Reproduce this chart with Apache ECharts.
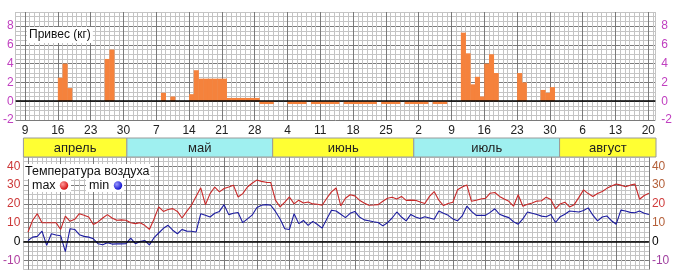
<!DOCTYPE html>
<html><head><meta charset="utf-8">
<script src="https://cdn.jsdelivr.net/npm/echarts@6/dist/echarts.min.js"></script>
<style>html,body{margin:0;padding:0;background:#fff}#c{width:675px;height:276px}</style>
</head><body><div id="c"></div>
<script>
// ---- data (day index 0 = 9 April) ----
const tickLabels = ['9','16','23','30','7','14','21','28','4','11','18','25','2','9','16','23','30','6','13','20'];
const monthNames = ['апрель','май','июнь','июль','август'];
const monthStart = [0,22,53,83,114];
const monthEnd   = [22,53,83,114,134.5];
const gain = [
 0,0,0,0,0,0,0,2.5,4,1.4,
 0,0,0,0,0,0,0,4.5,5.5,0,
 0,0,0,0,0,0,0,0,0,0.9,
 0,0.5,0,0,0,0.75,3.3,2.4,2.4,2.4,
 2.4,2.4,2.4,0.35,0.35,0.35,0.35,0.35,0.35,0.35,
 -0.3,-0.3,-0.3,0,0,0,-0.3,-0.3,-0.3,-0.3,
 0,-0.3,-0.3,-0.3,-0.3,-0.3,-0.3,0,-0.3,-0.3,
 -0.3,-0.3,-0.3,-0.3,-0.3,0,-0.3,-0.3,-0.3,-0.3,
 0,-0.3,-0.3,-0.3,-0.3,-0.3,0,-0.3,-0.3,-0.3,
 0,0,0,7.3,5.1,1.8,2.6,0.5,4,5,
 3,0,0,0,0,3,2,0,0,0,
 1.2,0.9,1.5,0,0,0,0,0,0,0,
 0,0,0,0,0,0,0,0,0,0,
 0,0,0,0
];
const tMax = [
 5,11.3,14.8,10,10,10,10,6.4,13.5,10.7,
 11.8,14.8,14,13,9,10.4,12.5,14.3,12.5,11.3,
 11.5,11.3,10,9.5,10,8.6,6.4,12,18.4,16,
 17,17.5,16,12.5,16,19.3,24,28.6,19.6,25.5,
 29,26.4,28.2,29,30,23.7,25.5,29,31,32.7,
 32,31.5,31.4,22,18.4,21,23.7,20,22,20.5,
 21,20,19.8,19.3,23,26.4,28.5,19,23,24.9,
 24.3,22,20.5,19.3,19.4,19.6,21.4,23,23.6,22.6,
 24,21.9,22,21.9,21,20.2,24,26.6,22,19.1,
 20.2,20.9,27.5,29,30.1,21.4,22,22.6,23,25.7,
 26.1,24,22.6,21.4,18.8,24.9,18.8,19.8,20.5,21.5,
 21.7,23.6,22.3,17.4,20,20.9,18.4,19.6,23.5,27.5,
 25.5,24,25.5,26.6,28.3,29.5,30.6,30,29.2,30,
 30.6,22.5,24.5,25.7
];
const tMin = [
 0.5,2.3,2.7,5.5,-2.1,4.1,3.4,3,-5.4,6.8,
 6.4,3.6,2.7,2.3,1.4,-1.2,-1.8,-0.7,-1.4,-1.3,
 -1.3,-1.2,1.8,-1.2,0,0.5,-1.8,2,4.5,7,
 8.6,6,4.1,6.4,5.5,5.4,5,14.8,14,13,
 15,16,19.6,14.3,15,15.4,10,12,14,18,
 19.3,19.6,19.3,16,12,6.8,6.4,14.8,9.5,11.2,
 8.6,10.7,9,7.1,12,16.6,16.2,14.5,12.7,15,
 16,13,11.5,11,10.5,10.1,8.3,10,12.5,15.7,
 13,11,14.4,13,12.2,13.2,12.5,11.8,16.2,15,
 13.9,12,11,13.6,18.8,16,13.9,13.9,13.9,15.5,
 17.4,14.5,13.5,12.7,10.5,9.2,12,15.7,15,14.4,
 13.5,13.2,14.4,10.1,13.2,14.5,16.2,16,15.7,16.5,
 17.9,14,11,13,13.6,11,9.2,16.7,16.2,15.5,
 15.3,16.2,15,14.4
];

// ---- styling ----
const F = "'Liberation Sans', Arial, sans-serif";
const LIGHT = '#c4c4c4', DARK = '#7a7a7a';
const BAR = '#f5823c', YELLOW = '#ffff33', CYAN = '#9ff0f0';
function cyc(n, darkAt){ const a=[]; for(let k=0;k<n;k++) a.push(k===darkAt?DARK:LIGHT); return a; }

function fmtX(v){
  const i = Math.round(v);
  if (Math.abs(v-i) > 1e-6 || i < 0 || i % 7 !== 0) return '';
  return tickLabels[i/7] || '';
}
function fmtTop(v){
  const r = Math.round(v);
  if (Math.abs(v-r) > 1e-6 || r % 2 !== 0 || r > 8) return '';
  return String(r);
}
function fmtBot(v){
  const r = Math.round(v);
  if (Math.abs(v-r) > 1e-6 || r % 10 !== 0 || r < -10 || r > 40) return '';
  return String(r);
}
function colL(v){ v=Number(v); if (v===0) return '#000'; if (v<0) return '#b040a0'; return '#cc3838'; }
function colR(v){ v=Number(v); if (v===0) return '#000'; if (v<0) return '#a040a0'; if (v===20) return '#d03c3c'; return '#b4603a'; }

const barData = [];
gain.forEach((v,i)=>{ if (v !== 0) barData.push([i, v]); });
const maxData = tMax.map((v,i)=>[i,v]);
const minData = tMin.map((v,i)=>[i,v]);
const bandData = monthNames.map((n,i)=>[monthStart[i], monthEnd[i], i]);

const chart = echarts.init(document.getElementById('c'));
chart.setOption({
  animation:false,
  backgroundColor:'#fff',
  textStyle:{fontFamily:F},
  grid:[
    {left:14, right:19, top:12, height:108},
    {left:14, right:19, top:138, height:19},
    {left:18.7, right:26.1, top:157, height:112.6}
  ],
  xAxis:[
    {type:'value', gridIndex:0, min:-2, max:134.5, interval:1,
     axisLine:{show:false}, axisTick:{show:false},
     axisLabel:{formatter:fmtX, color:'#222', fontSize:12, margin:5, fontFamily:F},
     splitLine:{show:true, lineStyle:{color:cyc(7,2), width:1}}},
    {type:'value', gridIndex:1, min:-2, max:134.5, show:false},
    {type:'value', gridIndex:2, min:-1, max:133, interval:1,
     axisLine:{show:false}, axisTick:{show:false}, axisLabel:{show:false},
     splitLine:{show:true, lineStyle:{color:cyc(7,1), width:1}}}
  ],
  yAxis:[
    {type:'value', gridIndex:0, min:-2, max:9.5, interval:0.5,
     axisLine:{show:false}, axisTick:{show:false},
     axisLabel:{formatter:fmtTop, color:'#c040c0', fontSize:12, margin:2, fontFamily:F},
     splitLine:{show:true, lineStyle:{color:cyc(4,0)}}},
    {type:'value', gridIndex:0, position:'right', min:-2, max:9.5, interval:0.5,
     axisLine:{show:false}, axisTick:{show:false},
     axisLabel:{formatter:fmtTop, color:'#c040c0', fontSize:12, margin:6, fontFamily:F},
     splitLine:{show:false}},
    {type:'value', gridIndex:1, min:0, max:1, show:false},
    {type:'value', gridIndex:2, min:-15, max:45, interval:2.5,
     axisLine:{show:false}, axisTick:{show:false},
     axisLabel:{formatter:fmtBot, color:colL, fontSize:12, margin:3, fontFamily:F},
     splitLine:{show:true, lineStyle:{color:cyc(4,2)}}},
    {type:'value', gridIndex:2, position:'right', min:-15, max:45, interval:2.5,
     axisLine:{show:false}, axisTick:{show:false},
     axisLabel:{formatter:fmtBot, color:colR, fontSize:12, margin:3, fontFamily:F},
     splitLine:{show:false}}
  ],
  series:[
    {type:'custom', xAxisIndex:0, yAxisIndex:0, data:barData, clip:true,
     renderItem:function(params, api){
       const x = api.value(0), v = api.value(1);
       const p0 = api.coord([x, 0]), p1 = api.coord([x+1, v]);
       return {type:'rect', shape:{x:p0[0], y:Math.min(p0[1],p1[1]), width:p1[0]-p0[0]+0.4, height:Math.abs(p1[1]-p0[1])},
               style:{fill:BAR}};
     },
     markLine:{silent:true, symbol:'none', label:{show:false}, lineStyle:{color:'#000', width:1.5, type:'solid'},
               data:[{yAxis:0}]}
    },
    {type:'custom', xAxisIndex:1, yAxisIndex:2, data:bandData,
     renderItem:function(params, api){
       const s = api.coord([api.value(0), 1]), e = api.coord([api.value(1), 0]);
       const idx = api.value(2);
       return {type:'group', children:[
         {type:'rect', shape:{x:s[0], y:s[1], width:e[0]-s[0], height:e[1]-s[1]},
          style:{fill: idx%2 ? CYAN : YELLOW, stroke:'#9a9a9a', lineWidth:1}},
         {type:'text', style:{text:monthNames[idx], x:(s[0]+e[0])/2, y:(s[1]+e[1])/2+0.5,
          align:'center', verticalAlign:'middle', fontSize:13, fontFamily:F, fill:'#222'}}
       ]};
     }
    },
    {type:'line', xAxisIndex:2, yAxisIndex:3, data:maxData, showSymbol:false, symbol:'none',
     lineStyle:{color:'#c82828', width:1.1}, z:3,
     markLine:{silent:true, symbol:'none', label:{show:false}, lineStyle:{color:'#000', width:1.5, type:'solid'},
               data:[{yAxis:0}]}},
    {type:'line', xAxisIndex:2, yAxisIndex:3, data:minData, showSymbol:false, symbol:'none',
     lineStyle:{color:'#1c1ca0', width:1.1}, z:3}
  ],
  graphic:[
    {type:'text', left:27, top:27, z:10, style:{text:'Привес (кг)', fontSize:12, fontFamily:F, fill:'#111',
      backgroundColor:'#fff', padding:[2,2,2,2]}},
    {type:'text', left:24, top:164, z:10, style:{text:'Температура воздуха', fontSize:12.5, fontFamily:F, fill:'#111',
      backgroundColor:'#fff', padding:[1,1,1,1]}},
    {type:'rect', z:9, shape:{x:29, y:179, width:42, height:13}, style:{fill:'#fff'}},
    {type:'rect', z:9, shape:{x:86, y:179, width:38, height:13}, style:{fill:'#fff'}},
    {type:'text', z:10, x:32, y:179, style:{text:'max', fontSize:12.5, fontFamily:F, fill:'#111'}},
    {type:'text', z:10, x:89, y:179, style:{text:'min', fontSize:12.5, fontFamily:F, fill:'#111'}},
    {type:'circle', z:10, shape:{cx:64, cy:185.5, r:4.2},
     style:{fill:{type:'radial', x:0.35, y:0.35, r:0.75, colorStops:[{offset:0,color:'#ff9a9a'},{offset:1,color:'#d00000'}]}}},
    {type:'circle', z:10, shape:{cx:118, cy:185.5, r:4.2},
     style:{fill:{type:'radial', x:0.35, y:0.35, r:0.75, colorStops:[{offset:0,color:'#9a9aff'},{offset:1,color:'#0000c8'}]}}}
  ]
});
</script>
</body></html>
